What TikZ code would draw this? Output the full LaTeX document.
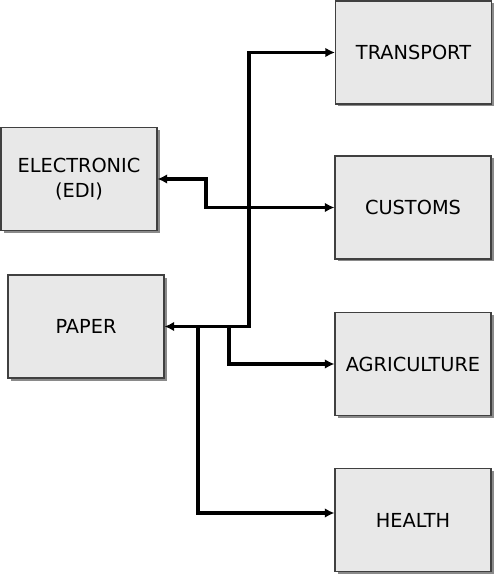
\documentclass[tikz,border=0pt]{standalone}
\usepackage{fontspec}
\setmainfont{DejaVu Sans}
\usepackage{tikz}
\usetikzlibrary{arrows.meta,positioning,calc,shadows}
\usepackage{xcolor}
\definecolor{BoxGray}{HTML}{E8E8E8}
\definecolor{EdgeGray}{HTML}{404040}
\definecolor{ShadeGray}{HTML}{8A8A8A}

\begin{document}
\begin{tikzpicture}[>={Latex[length=5.5pt,width=5.5pt]},
  dept/.style={draw=EdgeGray,fill=BoxGray,line width=0.6pt,minimum width=3.12cm,minimum height=2.06cm,
    align=center,font=\fontsize{11}{14.5}\selectfont,
    drop shadow={shadow xshift=0.05cm,shadow yshift=-0.05cm,fill=ShadeGray,opacity=1}},
  link/.style={line width=1.8pt}]
\useasboundingbox (0,0) rectangle (10,-11.64);
\node[dept] (transport) at (8.27,-1.05) {TRANSPORT};
\node[dept] (customs) at (8.26,-4.15) {CUSTOMS};
\node[dept] (agri) at (8.26,-7.28) {AGRICULTURE};
\node[dept] (health) at (8.26,-10.4) {HEALTH};
\node[dept] (edi) at (1.58,-3.58) {ELECTRONIC\\(EDI)};
\node[dept] (paper) at (1.72,-6.53) {PAPER};
% bus lines
\coordinate (busA) at (4.98,0);
\coordinate (busB) at (4.58,0);
\coordinate (busC) at (3.96,0);
\coordinate (jog) at (4.12,0);
\draw[link,<->] (paper.east) -| (busA |- transport.west) -- (transport.west);
\draw[link,->] (paper.east -| busB) |- (agri.west);
\draw[link,->] (paper.east -| busC) |- ([yshift=0.14cm]health.west);
\draw[link,<->] (edi.east) -| (jog |- customs.west) -- (customs.west);
\end{tikzpicture}
\end{document}
